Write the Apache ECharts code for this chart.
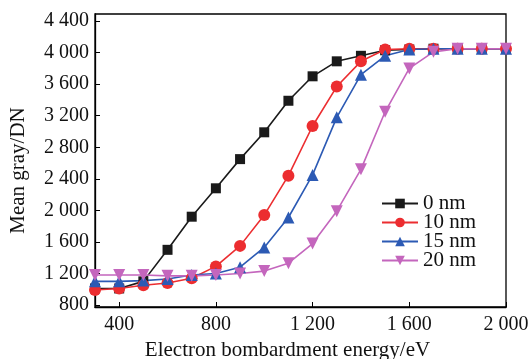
<!DOCTYPE html>
<html>
<head>
<meta charset="utf-8">
<script src="https://cdn.jsdelivr.net/npm/echarts@6/dist/echarts.min.js"></script>
<style>
    html, body { margin: 0; padding: 0; background: #fff; }
    #chart { width: 528px; height: 359px; }
</style>
</head>
<body>
<div id="chart"></div>
<script>
// electron bombardment energy, eV
var energy = [300, 400, 500, 600, 700, 800, 900, 1000, 1100, 1200, 1300, 1400, 1500, 1600, 1700, 1800, 1900, 2000];
// mean gray (DN) per film thickness
var nm0 = [1010, 1010, 1100, 1500, 1920, 2280, 2650, 2990, 3390, 3700, 3890, 3960, 4030, 4040, 4050, 4050, 4050, 4050];
var nm10 = [990, 1010, 1050, 1080, 1140, 1290, 1550, 1940, 2440, 3070, 3570, 3890, 4040, 4050, 4050, 4050, 4050, 4050];
var nm15 = [1100, 1100, 1110, 1130, 1180, 1200, 1280, 1530, 1910, 2450, 3180, 3720, 3960, 4040, 4050, 4050, 4050, 4050];
var nm20 = [1180, 1180, 1180, 1170, 1170, 1180, 1200, 1230, 1330, 1580, 1990, 2520, 3250, 3800, 4010, 4050, 4050, 4050];
var seriesNames = ['0 nm', '10 nm', '15 nm', '20 nm'];
var xTicks = [400, 800, 1200, 1600, 2000];
var yTicks = [800, 1200, 1600, 2000, 2400, 2800, 3200, 3600, 4000, 4400];

var font = 'Liberation Serif';

// 千位空格
function spaced(v) {
    var s = String(v);
    if (s.length > 3) {
        s = s.slice(0, s.length - 3) + ' ' + s.slice(s.length - 3);
    }
    return s;
}

function pairs(ys) {
    return energy.map(function (x, i) { return [x, ys[i]]; });
}

var myChart = echarts.init(document.getElementById('chart'));

var styles = [
    { color: '#1a1a1a', symbol: 'rect', size: 10, rotate: 0 },
    { color: '#ec2d30', symbol: 'circle', size: 12, rotate: 0 },
    { color: '#2c5ab4', symbol: 'triangle', size: 12, rotate: 0 },
    { color: '#c466bd', symbol: 'triangle', size: 12, rotate: 180 }
];
var allData = [nm0, nm10, nm15, nm20];

var series = allData.map(function (d, i) {
    var st = styles[i];
    return {
        name: seriesNames[i],
        type: 'line',
        data: pairs(d),
        symbol: st.symbol,
        symbolSize: st.size,
        symbolRotate: st.rotate,
        clip: false,
        itemStyle: { color: st.color },
        lineStyle: { color: st.color, width: 1.6 }
    };
});

var option = {
    animation: false,
    backgroundColor: '#fff',
    grid: {
        left: 95,
        right: 22,
        top: 14,
        bottom: 52,
        outerBoundsMode: 'none',
        show: true,
        borderColor: '#000',
        borderWidth: 1.3
    },
    legend: {
        orient: 'vertical',
        left: 376,
        top: 188,
        itemWidth: 36,
        itemHeight: 12,
        itemGap: -2,
        data: seriesNames,
        textStyle: { fontFamily: font, fontSize: 21, color: '#111', lineHeight: 19 }
    },
    xAxis: {
        type: 'value',
        min: 300,
        max: 2000,
        name: 'Electron bombardment energy/eV',
        nameLocation: 'middle',
        nameGap: 30,
        nameTextStyle: { fontFamily: font, fontSize: 21, color: '#111', padding: [0, 26, 0, 0] },
        splitLine: { show: false },
        axisLine: { lineStyle: { color: '#000', width: 1.3 } },
        axisTick: { inside: true, length: 5, customValues: xTicks, lineStyle: { color: '#000' } },
        axisLabel: {
            customValues: xTicks,
            fontFamily: font, fontSize: 20, color: '#111', margin: 8,
            formatter: spaced
        }
    },
    yAxis: {
        type: 'value',
        min: 775,
        max: 4490,
        name: 'Mean gray/DN',
        nameLocation: 'middle',
        nameGap: 66,
        nameTextStyle: { fontFamily: font, fontSize: 21, color: '#111', padding: [0, 0, 0, -20] },
        splitLine: { show: false },
        axisLine: { lineStyle: { color: '#000', width: 1.3 } },
        axisTick: { inside: true, length: 5, customValues: yTicks, lineStyle: { color: '#000' } },
        axisLabel: {
            customValues: yTicks,
            fontFamily: font, fontSize: 20, color: '#111', margin: 6,
            formatter: spaced
        }
    },
    series: series
};

myChart.setOption(option);
</script>
</body>
</html>
